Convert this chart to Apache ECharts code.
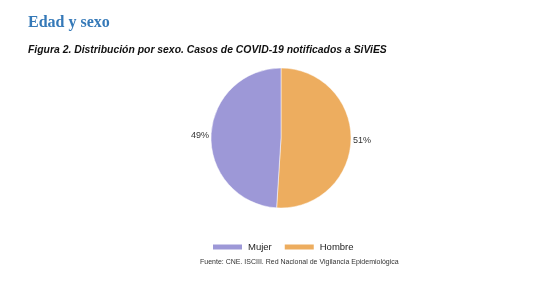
<!DOCTYPE html>
<html><head><meta charset="utf-8">
<script src="https://cdn.jsdelivr.net/npm/echarts@6/dist/echarts.min.js"></script>
<style>html,body{margin:0;padding:0;background:#fff}#c{width:544px;height:306px}</style>
</head><body><div id="c"></div>
<script>
var categories = ['Hombre', 'Mujer'];
var values = [51, 49];
var legendOrder = ['Mujer', 'Hombre'];
var colors = {Hombre: '#edad5f', Mujer: '#9d98d7'};

var chart = echarts.init(document.getElementById('c'));
chart.setOption({
  animation: false,
  title: [
    {text: 'Edad y sexo', left: 28, top: 15, padding: 0, textStyle: {fontFamily: 'Liberation Serif', fontWeight: 'bold', fontSize: 16, color: '#3579b8'}},
    {text: 'Figura 2. Distribución por sexo. Casos de COVID-19 notificados a SiViES', left: 28, top: 45, padding: 0, textStyle: {fontFamily: 'Liberation Sans', fontStyle: 'italic', fontWeight: 'bold', fontSize: 10.4, color: '#111'}},
    {text: 'Fuente: CNE. ISCIII. Red Nacional de Vigilancia Epidemiológica', left: 200, top: 259, padding: 0, textStyle: {fontFamily: 'Liberation Sans', fontWeight: 'normal', fontSize: 7, color: '#333'}}
  ],
  legend: {
    data: legendOrder, left: 211, top: 242, padding: 0, itemWidth: 31, itemHeight: 7, itemGap: 11,
    textStyle: {fontFamily: 'Liberation Sans', fontSize: 9.5, color: '#222'}, icon: 'rect'
  },
  series: [{
    type: 'pie', center: [281, 138], radius: 70, startAngle: 90, clockwise: true,
    itemStyle: {borderColor: '#fff', borderWidth: 0.5},
    label: {show: true, position: 'outside', formatter: '{c}%', fontFamily: 'Liberation Sans', fontSize: 9, color: '#333', distanceToLabelLine: 0},
    labelLine: {show: false, length: 2, length2: 0},
    data: categories.map(function (n, i) { return {name: n, value: values[i], itemStyle: {color: colors[n]}}; })
  }]
});
</script></body></html>
